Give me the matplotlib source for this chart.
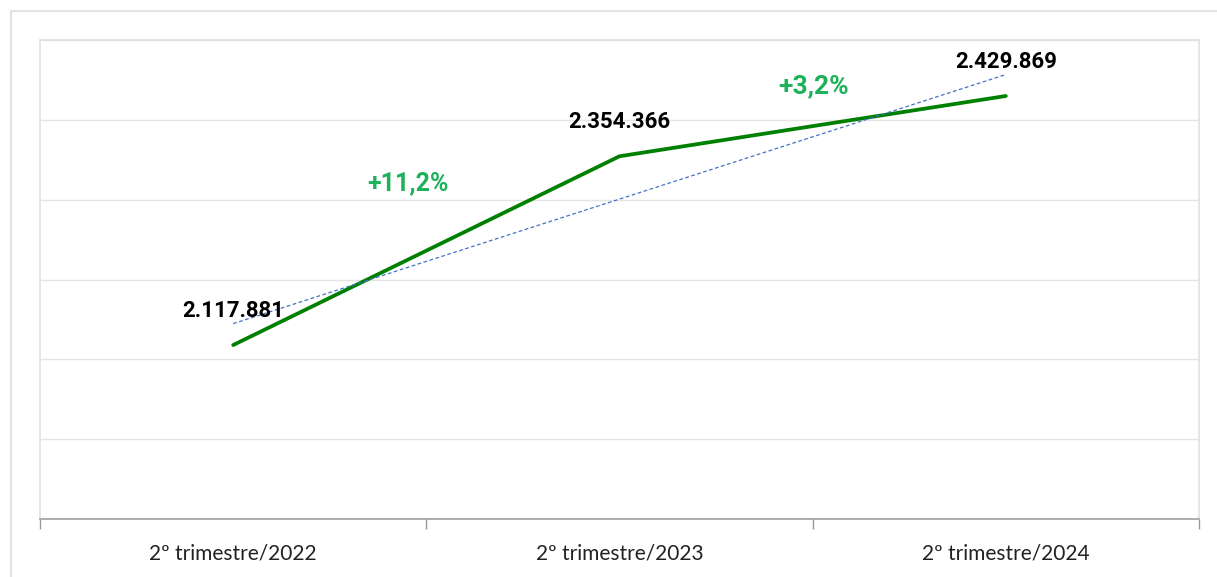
import matplotlib.pyplot as plt
from matplotlib.lines import Line2D
import numpy as np

# data
categories = ['2º trimestre/2022', '2º trimestre/2023', '2º trimestre/2024']
values = [2117881, 2354366, 2429869]
value_labels = ['2.117.881', '2.354.366', '2.429.869']
growth_labels = ['+11,2%', '+3,2%']

W, H = 1217, 577
fig = plt.figure(figsize=(W / 100, H / 100), dpi=100)
fig.patch.set_facecolor('white')

# outer frame (only top and left visible)
fig.add_artist(Line2D([11 / W, 1], [1 - 11 / H, 1 - 11 / H], transform=fig.transFigure, color='#e3e3e3', lw=1.5))
fig.add_artist(Line2D([11 / W, 11 / W], [0, 1 - 11 / H], transform=fig.transFigure, color='#e3e3e3', lw=1.5))

ax = fig.add_axes([40 / W, (H - 519) / H, (1199 - 40) / W, (519 - 40) / H])

x = np.arange(len(values))
ax.plot(x, values, color='#008000', lw=2.7, solid_capstyle='round', zorder=3)

# linear trend line
coef = np.polyfit(x, values, 1)
ax.plot(x, np.polyval(coef, x), color='#4472c4', lw=0.9, ls=(0, (3, 2)), zorder=4)

ax.set_xlim(-0.5, len(values) - 0.5)
ax.set_ylim(1900000, 2500000)
ax.set_yticks(np.arange(1900000, 2500001, 100000))
ax.yaxis.grid(True, color='#e4e4e4', lw=1)
ax.set_axisbelow(True)
ax.tick_params(axis='y', left=False, labelleft=False)

ax.set_xticks(x)
ax.set_xticklabels(categories, fontsize=15, fontfamily='Lato', color='#222222')
ax.tick_params(axis='x', which='major', length=0, pad=18)
ax.set_xticks(np.arange(-0.5, len(values), 1), minor=True)
ax.tick_params(axis='x', which='minor', length=7, color='#999999', width=1)

for s in ['left', 'top', 'right']:
    ax.spines[s].set_color('#e0e0e0')
    ax.spines[s].set_linewidth(1.2)
ax.spines['bottom'].set_color('#a0a0a0')
ax.spines['bottom'].set_linewidth(1.2)

# value labels
for xi, v, lab in zip(x, values, value_labels):
    ax.annotate(lab, (xi, v), xytext=(0, 34), textcoords='offset pixels',
                ha='center', va='center', fontsize=16, fontweight='bold',
                fontfamily='Roboto', color='black', zorder=5)

# growth labels near segment midpoints
offsets = [(-18, 67), (1, 40)]
sizes = [18, 19]
for i, (lab, off, fs) in enumerate(zip(growth_labels, offsets, sizes)):
    mx = (x[i] + x[i + 1]) / 2
    my = (values[i] + values[i + 1]) / 2
    ax.annotate(lab, (mx, my), xytext=off, textcoords='offset pixels',
                ha='center', va='center', fontsize=fs, fontweight='bold',
                fontfamily='Roboto', color='#1db25a', zorder=5)

fig.savefig('out.png', dpi=100)
